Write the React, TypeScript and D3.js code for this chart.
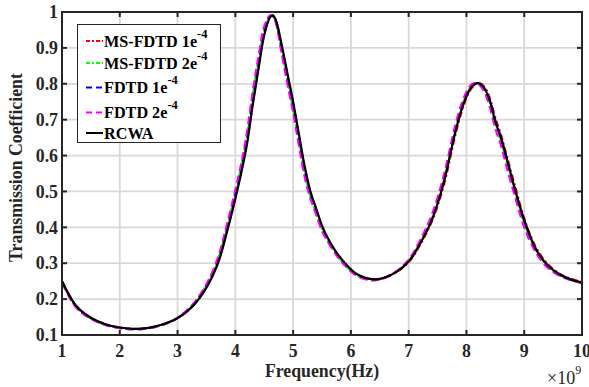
import React from "react";
import * as d3 from "d3";

const freq = [1.0, 1.25, 1.5, 1.75, 2.0, 2.25, 2.5, 2.75, 3.0, 3.25, 3.5, 3.7, 3.85, 4.0, 4.1, 4.2, 4.3, 4.4, 4.5, 4.6, 4.65, 4.7, 4.8, 4.9, 5.0, 5.1, 5.2, 5.3, 5.4, 5.5, 5.6, 5.75, 5.9, 6.1, 6.4, 6.7, 7.0, 7.2, 7.4, 7.6, 7.8, 7.9, 8.0, 8.1, 8.2, 8.3, 8.4, 8.5, 8.6, 8.7, 8.85, 9.0, 9.2, 9.4, 9.6, 9.8, 10.0];

const msfdtd1 = [0.25, 0.18, 0.148, 0.130, 0.121, 0.117, 0.12, 0.13, 0.147, 0.179, 0.234, 0.303, 0.388, 0.484, 0.555, 0.638, 0.746, 0.846, 0.939, 0.986, 0.99, 0.977, 0.906, 0.825, 0.745, 0.655, 0.566, 0.496, 0.449, 0.402, 0.368, 0.328, 0.299, 0.269, 0.255, 0.267, 0.303, 0.352, 0.416, 0.512, 0.652, 0.713, 0.76, 0.79, 0.802, 0.794, 0.762, 0.705, 0.657, 0.598, 0.51, 0.425, 0.345, 0.299, 0.272, 0.257, 0.248];

const msfdtd2 = [0.247, 0.176, 0.146, 0.128, 0.119, 0.116, 0.119, 0.129, 0.148, 0.182, 0.24, 0.311, 0.399, 0.498, 0.569, 0.654, 0.766, 0.865, 0.953, 0.99, 0.989, 0.972, 0.893, 0.81, 0.728, 0.637, 0.55, 0.485, 0.44, 0.395, 0.363, 0.325, 0.295, 0.266, 0.253, 0.268, 0.307, 0.358, 0.425, 0.527, 0.668, 0.726, 0.769, 0.796, 0.802, 0.787, 0.75, 0.689, 0.64, 0.58, 0.494, 0.411, 0.336, 0.292, 0.268, 0.254, 0.246];

const fdtd1 = [0.249, 0.179, 0.147, 0.129, 0.120, 0.116, 0.119, 0.129, 0.147, 0.180, 0.236, 0.305, 0.391, 0.489, 0.559, 0.643, 0.752, 0.852, 0.944, 0.988, 0.99, 0.975, 0.902, 0.82, 0.74, 0.649, 0.561, 0.493, 0.446, 0.4, 0.366, 0.327, 0.298, 0.268, 0.254, 0.268, 0.306, 0.357, 0.423, 0.524, 0.664, 0.722, 0.766, 0.794, 0.802, 0.79, 0.756, 0.697, 0.65, 0.589, 0.501, 0.418, 0.34, 0.295, 0.27, 0.255, 0.246];

const fdtd2 = [0.245, 0.175, 0.145, 0.128, 0.119, 0.116, 0.119, 0.129, 0.148, 0.183, 0.242, 0.316, 0.405, 0.505, 0.576, 0.663, 0.777, 0.875, 0.96, 0.99, 0.988, 0.97, 0.886, 0.80, 0.72, 0.628, 0.54, 0.48, 0.435, 0.39, 0.36, 0.322, 0.293, 0.265, 0.252, 0.268, 0.31, 0.365, 0.435, 0.54, 0.68, 0.737, 0.777, 0.8, 0.8, 0.78, 0.738, 0.675, 0.627, 0.565, 0.48, 0.4, 0.33, 0.288, 0.266, 0.253, 0.245];

const rcwa = [0.25, 0.18, 0.148, 0.130, 0.121, 0.117, 0.12, 0.13, 0.147, 0.178, 0.232, 0.30, 0.384, 0.48, 0.55, 0.63, 0.74, 0.84, 0.935, 0.985, 0.99, 0.978, 0.91, 0.83, 0.75, 0.66, 0.57, 0.50, 0.452, 0.405, 0.37, 0.33, 0.30, 0.27, 0.255, 0.268, 0.305, 0.355, 0.42, 0.52, 0.66, 0.72, 0.765, 0.793, 0.802, 0.79, 0.755, 0.695, 0.648, 0.59, 0.50, 0.42, 0.34, 0.295, 0.27, 0.255, 0.246];

const xTicks = [1, 2, 3, 4, 5, 6, 7, 8, 9, 10];
const yTicks = [0.1, 0.2, 0.3, 0.4, 0.5, 0.6, 0.7, 0.8, 0.9, 1];
const yTickLabels = ["0.1", "0.2", "0.3", "0.4", "0.5", "0.6", "0.7", "0.8", "0.9", "1"];

const seriesNames = ["MS-FDTD 1e", "MS-FDTD 2e", "FDTD 1e", "FDTD 2e", "RCWA"];
const seriesSup = ["-4", "-4", "-4", "-4", ""];
const seriesColors = ["#ff0000", "#00ff00", "#0000ff", "#ff00ff", "#000000"];
const seriesDash = ["6,3,2,3", "6,3,2,3", "8,4", "8,4", ""];
const seriesData = [msfdtd1, msfdtd2, fdtd1, fdtd2, rcwa];

const W = 589;
const H = 387;
const FONT = "'Liberation Serif', 'Times New Roman', serif";

export default function App() {
  const x = d3.scaleLinear().domain([1, 10]).range([62, 582]);
  const y = d3.scaleLinear().domain([0.1, 1]).range([335, 12]);
  const line = d3
    .line<number>()
    .x((_, i) => x(freq[i]))
    .y((d) => y(d))
    .curve(d3.curveCatmullRom.alpha(0.5));

  const [x0, x1] = x.range();
  const [yb, yt] = y.range();
  const axisColor = "#262626";
  const legendRows = [41, 63, 87.5, 112.5, 133];

  return (
    <svg
      width={W}
      height={H}
      style={{ position: "absolute", left: 0, top: 0, background: "#fff" }}
      fontFamily={FONT}
    >
      <rect x={0} y={0} width={W} height={H} fill="#fff" />
      <defs>
        <clipPath id="plotclip">
          <rect x={x0} y={yt} width={x1 - x0} height={yb - yt} />
        </clipPath>
      </defs>
      {/* grid */}
      {xTicks.slice(1, -1).map((t) => (
        <line key={"gx" + t} x1={x(t)} x2={x(t)} y1={yb} y2={yt} stroke="#d8d8d8" strokeWidth={1.8} />
      ))}
      {yTicks.slice(1, -1).map((t) => (
        <line key={"gy" + t} x1={x0} x2={x1} y1={y(t)} y2={y(t)} stroke="#d8d8d8" strokeWidth={1.8} />
      ))}
      {/* series */}
      <g clipPath="url(#plotclip)">
        {seriesData.map((s, i) => (
          <path
            key={"s" + i}
            d={line(s) || ""}
            fill="none"
            stroke={seriesColors[i]}
            strokeWidth={2.2}
            strokeDasharray={seriesDash[i] || undefined}
          />
        ))}
      </g>
      {/* axes box */}
      <rect x={x0} y={yt} width={x1 - x0} height={yb - yt} fill="none" stroke={axisColor} strokeWidth={2} />
      {/* ticks */}
      {xTicks.slice(1, -1).map((t) => (
        <g key={"tx" + t}>
          <line x1={x(t)} x2={x(t)} y1={yb} y2={yb - 5} stroke={axisColor} strokeWidth={2} />
          <line x1={x(t)} x2={x(t)} y1={yt} y2={yt + 5} stroke={axisColor} strokeWidth={2} />
        </g>
      ))}
      {yTicks.slice(1, -1).map((t) => (
        <g key={"ty" + t}>
          <line x1={x0} x2={x0 + 5} y1={y(t)} y2={y(t)} stroke={axisColor} strokeWidth={2} />
          <line x1={x1} x2={x1 - 5} y1={y(t)} y2={y(t)} stroke={axisColor} strokeWidth={2} />
        </g>
      ))}
      {/* tick labels */}
      {xTicks.map((t) => (
        <text key={"lx" + t} x={x(t)} y={357} textAnchor="middle" fontSize={17.8} fontWeight="bold" fill={axisColor}>
          {t}
        </text>
      ))}
      {yTicks.map((t, i) => (
        <text
          key={"ly" + t}
          x={x0 - 4}
          y={y(t)}
          dy="0.35em"
          textAnchor="end"
          fontSize={17.8}
          fontWeight="bold"
          fill={axisColor}
        >
          {yTickLabels[i]}
        </text>
      ))}
      {/* axis labels */}
      <text x={(x0 + x1) / 2} y={377} textAnchor="middle" fontSize={17.8} fontWeight="bold" fill={axisColor}>
        Frequency(Hz)
      </text>
      <text
        transform={`translate(22, ${(yt + yb) / 2 - 6}) rotate(-90)`}
        textAnchor="middle"
        fontSize={17.8}
        fontWeight="bold"
        fill={axisColor}
      >
        Transmission Coefficient
      </text>
      {/* exponent */}
      <text x={547} y={384} fontSize={18} fill={axisColor}>
        ×10
        <tspan dy={-10} fontSize={12}>
          9
        </tspan>
      </text>
      {/* legend */}
      <rect x={77.5} y={24.5} width={143} height={118} fill="#fff" stroke={axisColor} strokeWidth={1} />
      {seriesNames.map((n, i) => (
        <g key={"lg" + i}>
          <line
            x1={86}
            x2={103}
            y1={legendRows[i]}
            y2={legendRows[i]}
            stroke={seriesColors[i]}
            strokeWidth={2}
            strokeDasharray={seriesDash[i] ? (i < 2 ? "4,2,2,2" : "6,4") : undefined}
          />
          <text x={104} y={legendRows[i] + 5.5} fontSize={16.2} fontWeight="bold" fill="#000">
            {n}
            {seriesSup[i] && (
              <tspan dy={-9} fontSize={12.5}>
                {seriesSup[i]}
              </tspan>
            )}
          </text>
        </g>
      ))}
    </svg>
  );
}
